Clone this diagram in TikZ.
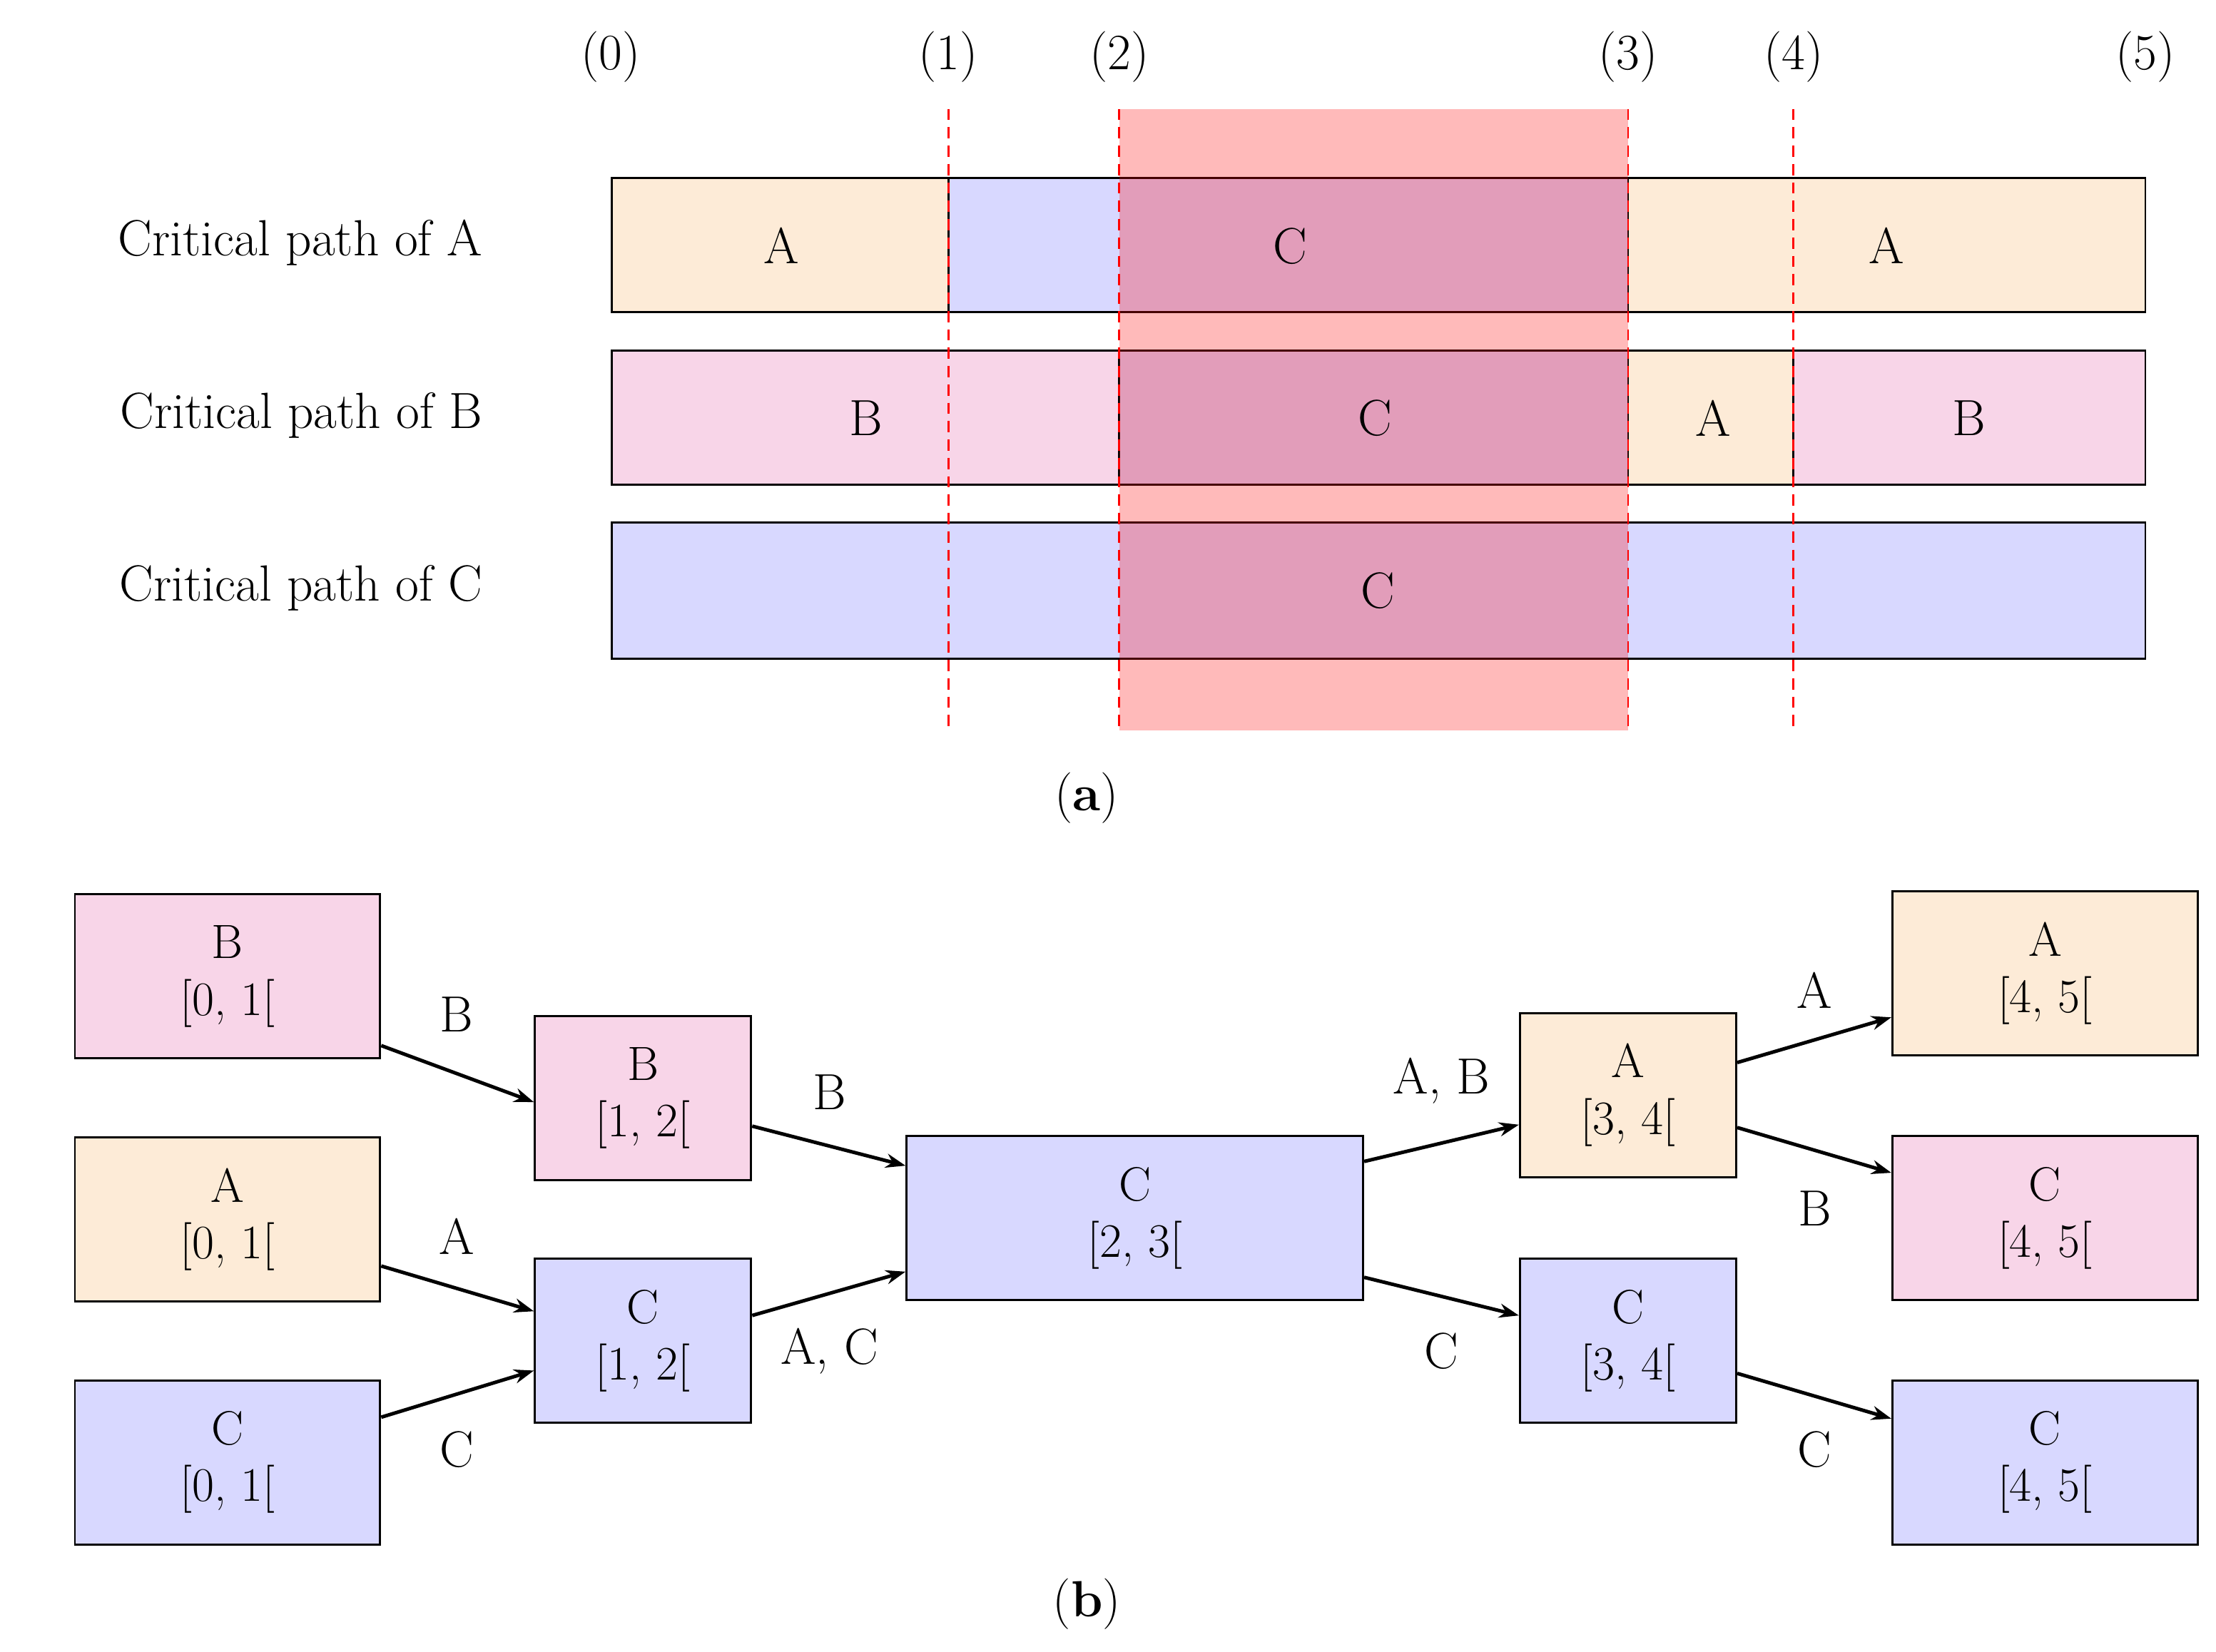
\documentclass[tikz,border=0pt]{standalone}
\usepackage{fontspec}
\usetikzlibrary{arrows.meta}
\definecolor{cor}{HTML}{FDEBD7}
\definecolor{cbl}{HTML}{D8D8FF}
\definecolor{cpk}{HTML}{F8D5E8}
\begin{document}
\begin{tikzpicture}[x=1pt,y=-1pt,
  every node/.style={font=\fontsize{36}{40}\selectfont},
  seg/.style={draw=black,line width=1.5pt},
  box/.style={draw=black,line width=1.5pt,align=center,inner sep=0pt,font=\fontsize{34}{40}\selectfont},
  arr/.style={-{Stealth[length=14pt,width=10pt]},line width=2.5pt},
  dl/.style={red,dashed,line width=1.5pt,dash pattern=on 8pt off 5pt}]
\useasboundingbox (0,0) rectangle (1568,1169);
% (a)
\foreach \x/\l/\n in {432/0/t0,671/1/t1,792/2/t2,1152/3/t3,1269/4/t4,1518/5/t5}
  \node (\n) at (\x,40) {(\l)};
\fill[seg,fill=cor] (433,126) rectangle (671,221);
\fill[seg,fill=cbl] (671,126) rectangle (1152,221);
\fill[seg,fill=cor] (1152,126) rectangle (1518,221);
\fill[seg,fill=cpk] (433,248) rectangle (792,343);
\fill[seg,fill=cbl] (792,248) rectangle (1152,343);
\fill[seg,fill=cor] (1152,248) rectangle (1269,343);
\fill[seg,fill=cpk] (1269,248) rectangle (1518,343);
\fill[seg,fill=cbl] (433,370) rectangle (1518,466);
\draw[line width=1.5pt] (433,126) rectangle (1518,221) (433,248) rectangle (1518,343) (433,370) rectangle (1518,466);
\fill[red,opacity=0.27] (792,77) rectangle (1152,517);
\foreach \x in {671,792,1152,1269} \draw[dl] (\x,77) -- (\x,517);
\node (la1) at (553,174) {A};
\node (la2) at (913,174) {C};
\node (la3) at (1335,174) {A};
\node (lb1) at (613,296) {B};
\node (lb2) at (973,296) {C};
\node (lb3) at (1212,296) {A};
\node (lb4) at (1393,296) {B};
\node (lc1) at (975,418) {C};
\node[anchor=east] (ra) at (345,172) {Critical path of A};
\node[anchor=east] (rb) at (345,294) {Critical path of B};
\node[anchor=east] (rc) at (345,416) {Critical path of C};
\node (capa) at (769,565) {(\textbf{a})};
% (b)
\node[box,fill=cpk,minimum width=216pt,minimum height=116pt] (B0) at (161,691) {B\\{[0, 1[}};
\node[box,fill=cor,minimum width=216pt,minimum height=116pt] (A0) at (161,863) {A\\{[0, 1[}};
\node[box,fill=cbl,minimum width=216pt,minimum height=116pt] (C0) at (161,1035) {C\\{[0, 1[}};
\node[box,fill=cpk,minimum width=153pt,minimum height=116pt] (B1) at (455,777) {B\\{[1, 2[}};
\node[box,fill=cbl,minimum width=153pt,minimum height=116pt] (C1) at (455,949) {C\\{[1, 2[}};
\node[box,fill=cbl,minimum width=323pt,minimum height=116pt] (C2) at (803,862) {C\\{[2, 3[}};
\node[box,fill=cor,minimum width=153pt,minimum height=116pt] (A3) at (1152,775) {A\\{[3, 4[}};
\node[box,fill=cbl,minimum width=153pt,minimum height=116pt] (C3) at (1152,949) {C\\{[3, 4[}};
\node[box,fill=cor,minimum width=216pt,minimum height=116pt] (A4) at (1447,689) {A\\{[4, 5[}};
\node[box,fill=cpk,minimum width=216pt,minimum height=116pt] (P4) at (1447,862) {C\\{[4, 5[}};
\node[box,fill=cbl,minimum width=216pt,minimum height=116pt] (C4) at (1447,1035) {C\\{[4, 5[}};
\draw[arr] ([yshift=-49pt]B0.east) -- ([yshift=-3pt]B1.west);
\draw[arr] ([yshift=-33pt]A0.east) -- ([yshift=21pt]C1.west);
\draw[arr] ([yshift=32pt]C0.east) -- ([yshift=-21pt]C1.west);
\draw[arr] ([yshift=-20pt]B1.east) -- ([yshift=37pt]C2.west);
\draw[arr] ([yshift=18pt]C1.east) -- ([yshift=-38pt]C2.west);
\draw[arr] ([yshift=40pt]C2.east) -- ([yshift=-21pt]A3.west);
\draw[arr] ([yshift=-42pt]C2.east) -- ([yshift=18pt]C3.west);
\draw[arr] ([yshift=23pt]A3.east) -- ([yshift=-31pt]A4.west);
\draw[arr] ([yshift=-23pt]A3.east) -- ([yshift=32pt]P4.west);
\draw[arr] ([yshift=-23pt]C3.east) -- ([yshift=31pt]C4.west);
\node (e1) at (323,718) {B};
\node (e2) at (323,875) {A};
\node (e3) at (323,1026) {C};
\node (e4) at (587,773) {B};
\node (e5) at (587,956) {A, C};
\node (e6) at (1020,765) {A, B};
\node (e7) at (1020,956) {C};
\node (e8) at (1284,701) {A};
\node (e9) at (1284,855) {B};
\node (e10) at (1284,1026) {C};
\node (capb) at (769,1135) {(\textbf{b})};
\end{tikzpicture}
\end{document}
